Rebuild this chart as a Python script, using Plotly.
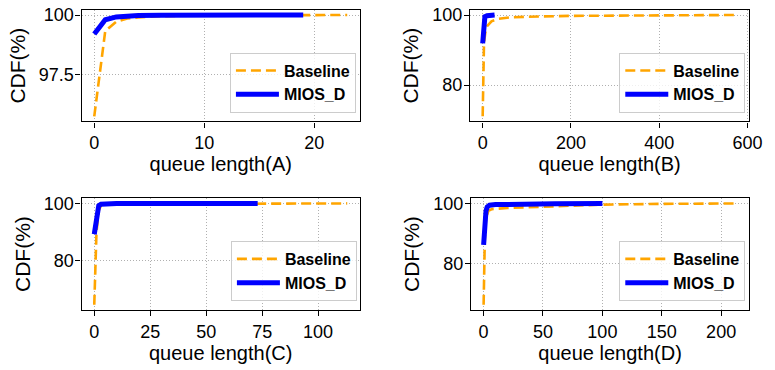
import plotly.graph_objects as go

# ---------------- data ----------------
a_base_x = [0, 1, 2, 3, 4, 5, 6, 8, 10, 15, 23]
a_base_y = [95.75, 99.33, 99.72, 99.85, 99.9, 99.93, 99.95, 99.97, 99.98, 99.99, 100.0]
a_mios_x = [0, 1, 2, 3, 4, 6, 10, 19]
a_mios_y = [99.2, 99.8, 99.92, 99.96, 99.98, 99.99, 100.0, 100.0]

b_base_x = [0, 3, 6, 10, 20, 35, 60, 100, 200, 400, 575]
b_base_y = [71.1, 92.0, 95.0, 96.8, 98.2, 98.9, 99.3, 99.5, 99.75, 99.9, 100.0]
b_mios_x = [0, 2, 5, 10, 15, 27]
b_mios_y = [91.9, 98.5, 99.5, 99.8, 99.9, 100.0]

c_base_x = [0, 1, 2, 3, 5, 10, 25, 50, 75, 113]
c_base_y = [64.5, 90.0, 97.5, 99.2, 99.5, 99.7, 99.8, 99.9, 99.95, 100.0]
c_mios_x = [0, 1, 2, 3, 5, 10, 73]
c_mios_y = [89.2, 96.0, 99.2, 99.7, 99.85, 99.95, 100.0]

d_base_x = [0, 1, 2, 4, 7, 20, 50, 100, 150, 213]
d_base_y = [66.3, 88.0, 95.0, 97.5, 98.1, 98.5, 98.9, 99.6, 99.85, 100.0]
d_mios_x = [0, 1, 2, 3, 5, 10, 30, 60, 100]
d_mios_y = [86.2, 94.0, 97.5, 98.8, 99.4, 99.6, 99.8, 99.9, 100.0]

panel_letters = ["A", "B", "C", "D"]
x_ticks = [[0, 10, 20], [0, 200, 400, 600], [0, 25, 50, 75, 100], [0, 50, 100, 150, 200]]
y_ticks = [[97.5, 100], [80, 100], [80, 100], [80, 100]]
y_tick_text = [["97.5", "100"], ["80", "100"], ["80", "100"], ["80", "100"]]
series_names = ["Baseline", "MIOS_D"]

panels = [
    (a_base_x, a_base_y, a_mios_x, a_mios_y),
    (b_base_x, b_base_y, b_mios_x, b_mios_y),
    (c_base_x, c_base_y, c_mios_x, c_mios_y),
    (d_base_x, d_base_y, d_mios_x, d_mios_y),
]

# ---------------- layout geometry ----------------
W, H = 775, 370
boxes = [  # left, right, top, bottom in pixels
    (83, 366, 5, 118),
    (478, 762, 5, 118),
    (83, 366, 196, 309),
    (479, 762, 196, 309),
]
legend_corner = [(362, 109), (758, 109), (363, 300), (758, 300)]

FONT = "Liberation Sans, Arial, sans-serif"
ORANGE = "#FFA500"
BLUE = "#0000FF"

fig = go.Figure()
layout = dict(
    width=W, height=H,
    margin=dict(l=0, r=0, t=0, b=0),
    paper_bgcolor="white", plot_bgcolor="white",
    font=dict(family=FONT, color="black"),
)

for i, (bx, by, mx, my) in enumerate(panels):
    n = i + 1
    xa = "x" if n == 1 else f"x{n}"
    ya = "y" if n == 1 else f"y{n}"
    lg = "legend" if n == 1 else f"legend{n}"
    fig.add_trace(go.Scatter(
        x=bx, y=by, mode="lines", name="<b>%s</b>" % series_names[0],
        line=dict(color=ORANGE, width=2.6, dash="10px,5px"),
        xaxis=xa, yaxis=ya, legend=lg,
    ))
    fig.add_trace(go.Scatter(
        x=mx, y=my, mode="lines", name="<b>%s</b>" % series_names[1],
        line=dict(color=BLUE, width=5),
        xaxis=xa, yaxis=ya, legend=lg,
    ))

    allx = bx + mx
    ally = by + my
    xpad = 0.05 * (max(allx) - min(allx))
    ypad = 0.05 * (max(ally) - min(ally))

    l, r, t, b = boxes[i]
    axis_common = dict(
        showline=True, linecolor="black", linewidth=1.3, mirror=True,
        ticks="outside", ticklen=5, tickwidth=1.3, tickcolor="black",
        showgrid=True, gridcolor="#b0b0b0", gridwidth=1, griddash="1px,2px",
        zeroline=False, ticklabeloverflow="allow",
        tickfont=dict(family=FONT, size=18, color="black"),
    )
    layout["xaxis" if n == 1 else f"xaxis{n}"] = dict(
        axis_common,
        domain=[l / W, r / W],
        anchor=ya,
        range=[min(allx) - xpad, max(allx) + xpad],
        tickvals=x_ticks[i],
        title=dict(text="queue length(%s)" % panel_letters[i],
                   font=dict(family=FONT, size=20, color="black"), standoff=4),
    )
    layout["yaxis" if n == 1 else f"yaxis{n}"] = dict(
        axis_common,
        domain=[1 - b / H, 1 - t / H],
        anchor=xa,
        range=[min(ally) - ypad, max(ally) + ypad],
        tickvals=y_ticks[i], ticktext=y_tick_text[i],
        ticklabelstandoff=-2,
        title=dict(text="CDF(%)", font=dict(family=FONT, size=21, color="black"), standoff=7),
    )
    cx, cy = legend_corner[i]
    layout[lg] = dict(
        x=cx / W, y=1 - cy / H, xanchor="right", yanchor="bottom",
        xref="paper", yref="paper",
        bgcolor="rgba(255,255,255,0.8)", bordercolor="#cccccc", borderwidth=1,
        font=dict(family=FONT, size=16, color="black"),
        tracegroupgap=0, itemwidth=43,
    )

fig.update_layout(**layout)
fig.write_html("out.html", config={"displayModeBar": False},
               post_script="document.body.style.margin='0px';")
